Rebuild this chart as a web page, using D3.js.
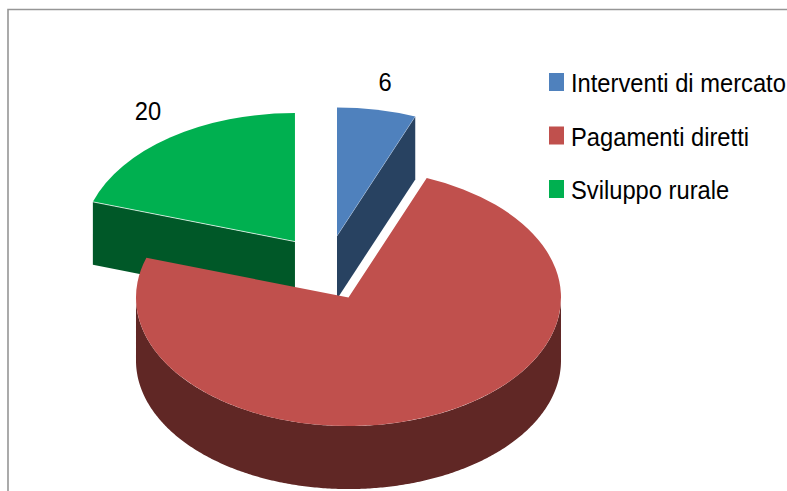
<!DOCTYPE html>
<html><head><meta charset="utf-8">
<style>html,body{margin:0;padding:0;background:#fff}svg{display:block}text{font-family:"Liberation Sans",Arial,sans-serif;fill:#000}</style>
<script src="https://cdn.jsdelivr.net/npm/d3@7"></script></head>
<body><script>
const categories = ["Interventi di mercato", "Pagamenti diretti", "Sviluppo rurale"];
const values = [6, 74, 20];
const topColors = ["#4F81BD", "#C0504D", "#00B050"];
const sideColors = ["#284261", "#602725", "#005828"];

const W = 787, H = 491;
const cx = 325.5, cy = 268, rx = 212.5, ry = 128.5, depth = 63, explode = 54;
const nudgeX = [1.4, 0, 1.2];
const svg = d3.select("body").append("svg").attr("width", W).attr("height", H);

// frame
svg.append("path").attr("d", `M8 ${H}V9.5H${W}`).attr("fill", "none").attr("stroke", "#969696").attr("stroke-width", 1.6);

const pie = d3.pie().sort(null).startAngle(0).endAngle(2 * Math.PI);
const arcs = pie(values);
const k = ry / rx;
const arc = d3.arc().innerRadius(0).outerRadius(rx);

const slices = arcs.map((a, i) => {
  const mid = (a.startAngle + a.endAngle) / 2;
  const ox = cx + nudgeX[i] + explode * Math.sin(mid), oy = cy - explode * k * Math.cos(mid);
  const pt = t => [ox + rx * Math.sin(t), oy - ry * Math.cos(t)];
  return {a, i, ox, oy, pt};
});

const wall = d3.area().x(d => d[0]).y0(d => d[1]).y1(d => d[1] + depth);

function wallPoints(s) {
  const {a, pt} = s;
  const pts = [];
  // rim visible on the front half of the ellipse
  const lo = Math.max(a.startAngle, Math.PI / 2), hi = Math.min(a.endAngle, 3 * Math.PI / 2);
  if (hi > lo) d3.range(lo, hi, 0.01).concat([hi]).forEach(t => pts.push(pt(t)));
  return pts;
}

// draw order: back slices first, front slice last
[2, 0, 1].forEach(i => {
  const s = slices[i];
  const g = svg.append("g");
  const side = sideColors[i];
  // cut face that looks towards the viewer
  if (i === 0) g.append("path").attr("d", wall([[s.ox, s.oy], s.pt(s.a.endAngle)])).attr("fill", side);
  if (i === 2) g.append("path").attr("d", wall([s.pt(s.a.startAngle), [s.ox, s.oy]])).attr("fill", side);
  const pts = wallPoints(s);
  if (pts.length && i === 1) g.append("path").attr("d", wall(pts)).attr("fill", side);
  g.append("path")
    .attr("transform", `translate(${s.ox},${s.oy}) scale(1,${k})`)
    .attr("d", arc(s.a)).attr("fill", topColors[i]);
  if (i !== 1) {
    const e = i === 0 ? s.pt(s.a.endAngle) : s.pt(s.a.startAngle);
    g.append("line").attr("x1", s.ox).attr("y1", s.oy).attr("x2", e[0]).attr("y2", e[1])
      .attr("stroke", "#fff").attr("stroke-width", 0.8).attr("stroke-opacity", i === 2 ? 0.9 : 0.3);
  }
});

// data labels
const labelFont = 26, squeeze = 0.913;
const label = (txt, x, y) => svg.append("text")
  .attr("transform", `translate(${x},${y}) scale(${squeeze},1)`)
  .attr("text-anchor", "middle").attr("font-size", labelFont).text(txt);
label(values[0], 385, 90.5);
label(values[2], 148, 120);

// legend
const legendY = d3.scalePoint().domain(categories).range([73, 180]);
const lg = svg.append("g").selectAll("g").data(categories).join("g")
  .attr("transform", d => `translate(549,${legendY(d)})`);
lg.append("rect").attr("width", 15).attr("height", 18).attr("fill", (d, i) => topColors[i]);
lg.append("text").attr("transform", `translate(22,19) scale(${squeeze},1)`)
  .attr("font-size", labelFont).text(d => d);
</script></body></html>
